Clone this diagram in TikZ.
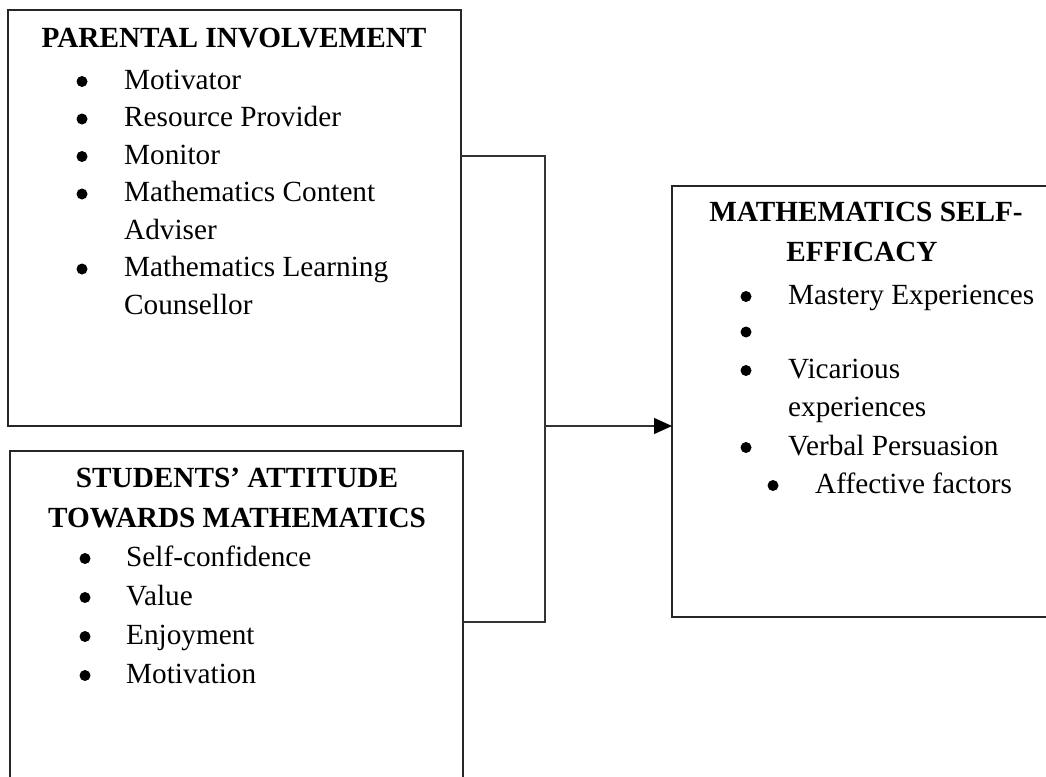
\documentclass[tikz,border=0pt]{standalone}
\usepackage{fontspec}
\setmainfont{Liberation Serif}
\usetikzlibrary{arrows.meta}
\begin{document}
\begin{tikzpicture}[x=1pt,y=-1pt,
  frame/.style={draw=black!85, line width=1.3pt, rectangle, inner sep=0pt, outer sep=0pt, anchor=north west},
  boxtitle/.style={font=\fontsize{29.25}{39}\selectfont\bfseries, inner sep=0pt, anchor=base},
  itemtext/.style={font=\fontsize{29.25}{37.5}\selectfont, inner sep=0pt, anchor=base west},
  dot/.style={circle, fill=black, inner sep=0pt, minimum size=11pt},
  link/.style={draw=black!80, line width=1.3pt}]
\useasboundingbox (0,0) rectangle (1046,776);
\begin{scope}
\clip (0,0) rectangle (1046,776);

% the three framed blocks
\node[frame, minimum width=453pt, minimum height=416pt] (parent) at (8,10) {};
\node[frame, minimum width=453pt, minimum height=360pt] (students) at (10,451) {};
\node[frame, minimum width=384pt, minimum height=431pt] (selfeff) at (672,186) {};

% parental involvement
\node[boxtitle] (ptitle) at (234,47.7) {PARENTAL INVOLVEMENT};
\node[dot] (pb1) at (82,81.5) {};
\node[itemtext] (p1) at (124,89) {Motivator};
\node[dot] (pb2) at (82,119) {};
\node[itemtext] (p2) at (124,126.5) {Resource Provider};
\node[dot] (pb3) at (82,156.5) {};
\node[itemtext] (p3) at (124,164) {Monitor};
\node[dot] (pb4) at (82,194) {};
\node[itemtext] (p4) at (124,201.5) {Mathematics Content};
\node[itemtext] (p4b) at (124,239) {Adviser};
\node[dot] (pb5) at (82,269) {};
\node[itemtext] (p5) at (124,276.5) {Mathematics Learning};
\node[itemtext] (p5b) at (124,314) {Counsellor};

% students' attitude
\node[boxtitle] (stitle1) at (237,487.7) {STUDENTS’ ATTITUDE};
\node[boxtitle] (stitle2) at (237,527.3) {TOWARDS MATHEMATICS};
\node[dot] (sb1) at (85,558.5) {};
\node[itemtext] (s1) at (126,566) {Self-confidence};
\node[dot] (sb2) at (85,597.5) {};
\node[itemtext] (s2) at (126,605) {Value};
\node[dot] (sb3) at (85,636.5) {};
\node[itemtext] (s3) at (126,644) {Enjoyment};
\node[dot] (sb4) at (85,675.5) {};
\node[itemtext] (s4) at (126,683) {Motivation};

% mathematics self-efficacy
\node[boxtitle] (mtitle1) at (866,221.7) {MATHEMATICS SELF-};
\node[boxtitle] (mtitle2) at (862,261.7) {EFFICACY};
\node[dot] (mb1) at (746,296.5) {};
\node[itemtext] (m1) at (788,304) {Mastery Experiences};
\node[dot] (mb2) at (746,332) {};
\node[dot] (mb3) at (746,370.5) {};
\node[itemtext] (m3) at (788,378) {Vicarious};
\node[itemtext] (m3b) at (788,416) {experiences};
\node[dot] (mb4) at (746,447.5) {};
\node[itemtext] (m4) at (788,455) {Verbal Persuasion};
\node[dot] (mb5) at (773,485.5) {};
\node[itemtext] (m5) at (815,493) {Affective factors};

% joining bracket and arrow
\coordinate (jtop) at (545,156);
\coordinate (jbot) at (545,622);
\coordinate (jmid) at (545,426);
\draw[link] (parent.north east |- jtop) -- (jtop) -- (jbot) -- (students.north east |- jbot);
\draw[link, -{Triangle[length=18pt,width=16pt,color=black]}] (jmid) -- (selfeff.west |- jmid);
\end{scope}
\end{tikzpicture}
\end{document}
